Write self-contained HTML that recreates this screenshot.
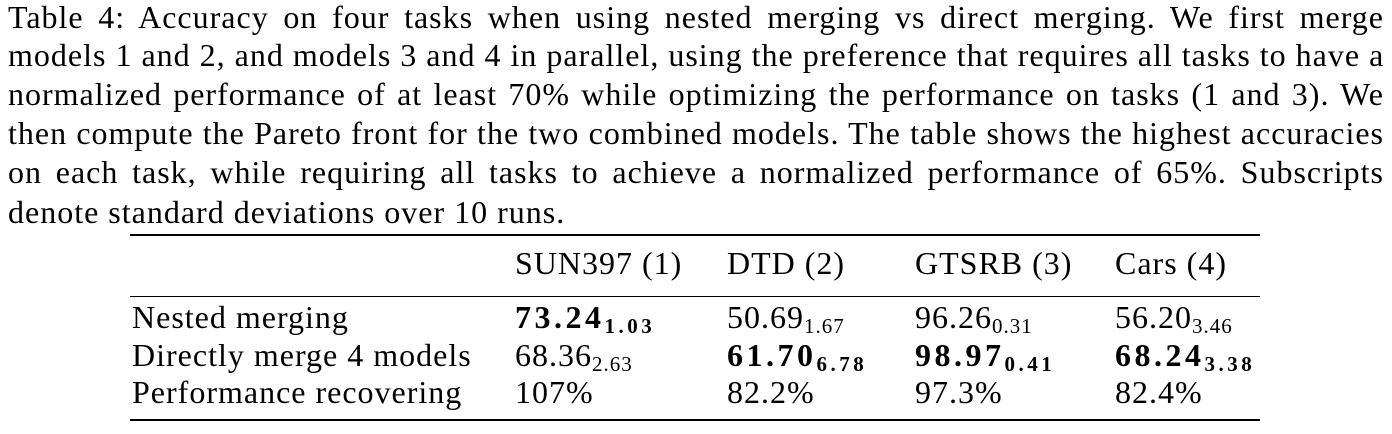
<!DOCTYPE html>
<html><head><meta charset="utf-8"><style>
html,body{margin:0;padding:0;background:#fff;}
body{width:1392px;height:434px;position:relative;overflow:hidden;font-family:"Liberation Serif",serif;color:#000;font-size:32px;letter-spacing:1px;}
.cl{position:absolute;left:8px;width:1376px;height:39px;line-height:39px;white-space:nowrap;text-align:justify;text-align-last:justify;}
.cl.last{text-align-last:left;}
.rule{position:absolute;left:130px;width:1130px;background:#000;}
.c{position:absolute;white-space:nowrap;line-height:38px;height:38px;}
sub{font-size:21px;vertical-align:-5px;line-height:0;}
b{font-weight:bold;letter-spacing:3.5px;}
</style></head><body>
<div>
<div class="cl" style="top:-2px">Table 4: Accuracy on four tasks when using nested merging vs direct merging. We first merge</div>
<div class="cl" style="top:36px">models 1 and 2, and models 3 and 4 in parallel, using the preference that requires all tasks to have a</div>
<div class="cl" style="top:75px">normalized performance of at least 70% while optimizing the performance on tasks (1 and 3). We</div>
<div class="cl" style="top:114px">then compute the Pareto front for the two combined models. The table shows the highest accuracies</div>
<div class="cl" style="top:153px">on each task, while requiring all tasks to achieve a normalized performance of 65%. Subscripts</div>
<div class="cl last" style="top:193px">denote standard deviations over 10 runs.</div>
</div>
<div class="rule" style="top:234px;height:2px"></div>
<div class="rule" style="top:296px;height:1px"></div>
<div class="rule" style="top:419px;height:2px"></div>

<div>
<div class="c" style="left:515px;top:244px">SUN397 (1)</div>
<div class="c" style="left:727px;top:244px">DTD (2)</div>
<div class="c" style="left:915px;top:244px">GTSRB (3)</div>
<div class="c" style="left:1115px;top:244px">Cars (4)</div>
</div>
<div>
<div class="c" style="left:132px;top:298px">Nested merging</div>
<div class="c" style="left:515px;top:298px"><b>73.24<sub>1.03</sub></b></div>
<div class="c" style="left:727px;top:298px">50.69<sub>1.67</sub></div>
<div class="c" style="left:915px;top:298px">96.26<sub>0.31</sub></div>
<div class="c" style="left:1115px;top:298px">56.20<sub>3.46</sub></div>
</div>
<div>
<div class="c" style="left:132px;top:336px">Directly merge 4 models</div>
<div class="c" style="left:515px;top:336px">68.36<sub>2.63</sub></div>
<div class="c" style="left:727px;top:336px"><b>61.70<sub>6.78</sub></b></div>
<div class="c" style="left:915px;top:336px"><b>98.97<sub>0.41</sub></b></div>
<div class="c" style="left:1115px;top:336px"><b>68.24<sub>3.38</sub></b></div>
</div>
<div>
<div class="c" style="left:132px;top:373px">Performance recovering</div>
<div class="c" style="left:515px;top:373px">107%</div>
<div class="c" style="left:727px;top:373px">82.2%</div>
<div class="c" style="left:915px;top:373px">97.3%</div>
<div class="c" style="left:1115px;top:373px">82.4%</div>
</div>
</body></html>
